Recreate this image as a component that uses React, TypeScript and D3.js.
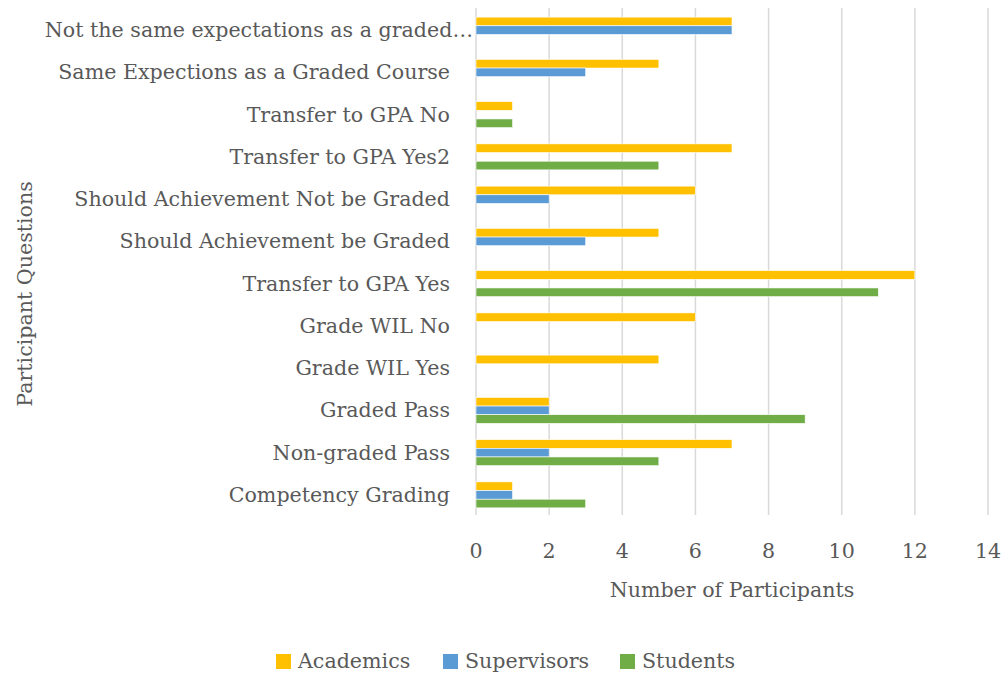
import React from "react";
import * as d3 from "d3";

const categories = [
  "Not the same expectations as a graded…",
  "Same Expections as a Graded Course",
  "Transfer to GPA No",
  "Transfer to GPA Yes2",
  "Should Achievement Not be Graded",
  "Should Achievement be Graded",
  "Transfer to GPA Yes",
  "Grade WIL No",
  "Grade WIL Yes",
  "Graded Pass",
  "Non-graded Pass ",
  "Competency Grading",
];
const academics = [7, 5, 1, 7, 6, 5, 12, 6, 5, 2, 7, 1];
const supervisors = [7, 3, 0, 0, 2, 3, 0, 0, 0, 2, 2, 1];
const students = [0, 0, 1, 5, 0, 0, 11, 0, 0, 9, 5, 3];
const seriesNames = ["Academics", "Supervisors", "Students"];
const seriesColors = ["#FFC000", "#5B9BD5", "#70AD47"];
const xTicks = [0, 2, 4, 6, 8, 10, 12, 14];

const FONT = "'DejaVu Serif', serif";
const TXT = "#595959";
const FS = 20.6;

export default function App() {
  const W = 1003, H = 675;
  const left = 476, right = 988, top = 9, bottom = 516;
  const x = d3.scaleLinear().domain([0, 14]).range([left, right]);
  const y = d3.scaleBand<string>().domain(categories).range([top, bottom]).paddingInner(0.385).paddingOuter(0.1925);
  const ys = d3.scaleBand<string>().domain(seriesNames).range([0, y.bandwidth()]);
  const data = [academics, supervisors, students];
  return (
    <svg width={W} height={H} style={{ position: "absolute", left: 0, top: 0 }} fontFamily={FONT}>
      <rect width={W} height={H} fill="#fff" />
      {xTicks.map((t) => (
        <line key={t} x1={x(t)} x2={x(t)} y1={top - 1} y2={bottom - 1} stroke="#D9D9D9" strokeWidth={1.5} />
      ))}
      {categories.map((c, i) => (
        <g key={c}>
          {data.map((vals, s) =>
            vals[i] > 0 ? (
              <rect
                key={s}
                x={x(0)}
                y={(y(c) as number) + (ys(seriesNames[s]) as number)}
                width={x(vals[i]) - x(0)}
                height={ys.bandwidth()}
                fill={seriesColors[s]}
                stroke="#fff"
                strokeWidth={0.6}
              />
            ) : null
          )}
          <text
            x={c.endsWith("…") ? 473 : 450}
            y={(y(c) as number) + y.bandwidth() / 2}
            textAnchor="end"
            dominantBaseline="central"
            fontSize={FS}
            fill={TXT}
          >
            {c}
          </text>
        </g>
      ))}
      {xTicks.map((t) => (
        <text key={t} x={x(t)} y={551} textAnchor="middle" dominantBaseline="central" fontSize={FS} fill={TXT}>
          {t}
        </text>
      ))}
      <text x={732} y={590} textAnchor="middle" dominantBaseline="central" fontSize={FS} fill={TXT}>
        Number of Participants
      </text>
      <text
        transform={`translate(25,294) rotate(-90)`}
        textAnchor="middle"
        dominantBaseline="central"
        fontSize={FS}
        fill={TXT}
      >
        Participant Questions
      </text>
      {seriesNames.map((n, i) => {
        const lx = [276, 443, 620][i];
        return (
          <g key={n}>
            <rect x={lx} y={654} width={15} height={15} fill={seriesColors[i]} />
            <text x={lx + 22} y={661} dominantBaseline="central" fontSize={FS} fill={TXT}>
              {n}
            </text>
          </g>
        );
      })}
    </svg>
  );
}
